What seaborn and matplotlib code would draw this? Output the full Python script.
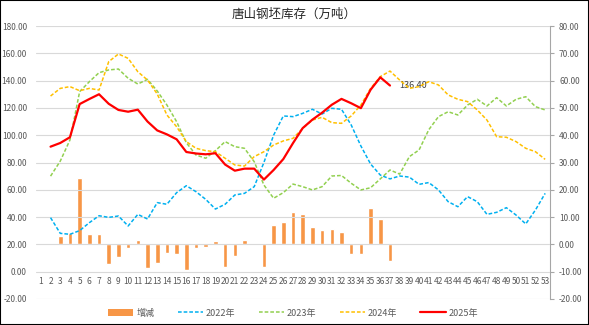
import numpy as np
import pandas as pd
import matplotlib
matplotlib.use("Agg")
import matplotlib.pyplot as plt
import seaborn as sns
from matplotlib.patches import Patch, Rectangle
from matplotlib.lines import Line2D

nan = np.nan
weeks = list(range(1, 54))
week_labels = [str(w) for w in weeks]

s2022 = [nan, 39.6, 28.1, 27.4, 30.1, 35.9, 41.0, 39.8, 40.8, 33.5, 42.0, 38.6, 50.6, 49.4,
         57.9, 63.0, 58.6, 53.0, 45.9, 49.4, 56.2, 57.4, 62.3, 80.0, 100.0, 114.1, 113.6,
         116.0, 119.0, 115.5, 119.7, 119.0, 107.5, 92.1, 78.9, 70.8, 68.0, 70.1, 69.3, 64.0,
         65.3, 59.9, 51.3, 47.6, 55.0, 51.3, 42.0, 43.5, 46.9, 41.5, 35.0, 45.2, 57.4]
s2023 = [nan, 70.0, 81.0, 96.5, 131.9, 139.2, 145.8, 147.8, 148.5, 141.7, 137.5, 140.9, 132.4,
         122.1, 109.9, 94.5, 85.5, 83.1, 88.7, 95.3, 91.6, 90.4, 80.6, 63.5, 53.8, 57.9, 64.2,
         62.3, 59.9, 62.3, 70.1, 70.5, 64.8, 59.9, 61.5, 68.0, 74.5, 71.5, 84.3, 89.2, 104.0,
         113.6, 117.2, 114.8, 122.1, 126.3, 121.4, 127.5, 121.4, 126.3, 128.2, 120.9, 118.5]
s2024 = [nan, 128.7, 134.3, 135.6, 132.6, 134.3, 133.1, 153.9, 159.5, 156.3, 146.5, 140.4, 130.2,
         114.8, 106.2, 95.3, 90.4, 88.7, 87.9, 83.1, 78.2, 77.4, 84.3, 87.9, 92.8, 95.8, 97.7,
         105.0, 111.1, 113.1, 109.2, 108.7, 114.1, 122.1, 134.3, 142.9, 147.0, 140.4, 134.3,
         135.6, 139.2, 136.8, 129.5, 126.3, 124.6, 118.5, 111.1, 98.9, 98.5, 95.3, 90.4, 87.9, 82.3]
s2025 = [nan, 91.6, 94.3, 98.5, 122.8, 126.5, 130.0, 123.0, 118.5, 117.2, 118.7, 110.0, 103.5,
         100.6, 97.0, 87.7, 86.6, 86.0, 86.8, 78.5, 74.0, 75.5, 75.5, 67.5, 74.5, 82.5, 94.2,
         105.2, 111.4, 116.5, 122.3, 126.6, 123.4, 119.8, 133.3, 142.4, 136.4] + [nan] * 16

change_weeks = list(range(3, 38))
change = [3.1, 4.2, 24.3, 3.7, 3.7, -7.1, -4.5, -1.5, 1.6, -8.7, -6.7, -3.1, -3.4, -9.3, -1.3,
          -0.9, 1.1, -8.3, -4.4, 1.5, 0.0, -8.2, 7.2, 8.2, 11.8, 11.1, 6.3, 5.2, 5.6, 4.5, -3.4,
          -3.4, 13.3, 9.3, -6.0]

series_names = ["2022年", "2023年", "2024年", "2025年"]
series_values = [s2022, s2023, s2024, s2025]
series_colors = ["#00B0F0", "#92D050", "#FFC000", "#FF0000"]
bar_name = "增减"
bar_color = "#F79646"
title = "唐山钢坯库存（万吨）"
last_label = "136.40"

sns.set_theme(style="white")
plt.rcParams["font.family"] = ["Noto Sans CJK SC", "DejaVu Sans"]
plt.rcParams["axes.unicode_minus"] = False

fig = plt.figure(figsize=(5.89, 3.25), dpi=100)
fig.patch.set_facecolor("white")
ax = fig.add_axes([36 / 589, 1 - 299 / 325, 514 / 589, 273 / 325])
ax2 = ax.twinx()

# bars on secondary axis
df_bar = pd.DataFrame({"week": change_weeks, "change": change})
sns.barplot(data=df_bar, x="week", y="change", native_scale=True, width=0.47,
            color=bar_color, saturation=1, errorbar=None, ax=ax2, zorder=2)

# lines on primary axis
for name, vals, col in zip(series_names, series_values, series_colors):
    d = pd.DataFrame({"week": weeks, "value": vals}).dropna()
    if name == "2025年":
        sns.lineplot(data=d, x="week", y="value", color=col, lw=1.6, ax=ax, zorder=5)
    else:
        sns.lineplot(data=d, x="week", y="value", color=col, lw=1.1, ax=ax,
                     dashes=False, zorder=4)
        ax.lines[-1].set_dashes((2.4, 1.3))

ax.set_zorder(ax2.get_zorder() + 1)
ax.patch.set_visible(False)

ax.set_ylim(-20, 180)
ax2.set_ylim(-20, 80)
ax.set_xlim(0.5, 53.5)
ax.set_yticks(np.arange(-20, 181, 20))
ax2.set_yticks(np.arange(-20, 81, 10))
ax.yaxis.set_major_formatter(matplotlib.ticker.FormatStrFormatter("%.2f"))
ax2.yaxis.set_major_formatter(matplotlib.ticker.FormatStrFormatter("%.2f"))
ax.set_xticks(weeks)
ax.set_xticklabels(week_labels)

ax.yaxis.grid(True, color="#D9D9D9", lw=0.8)
ax.xaxis.grid(False)
ax2.grid(False)
for s in ax.spines.values():
    s.set_visible(False)
for k, s in ax2.spines.items():
    s.set_visible(k == "right")
ax2.spines["right"].set_color("#A6A6A6")
ax2.spines["right"].set_linewidth(0.8)
ax.spines["bottom"].set_position(("data", 0))

ax.tick_params(axis="x", length=0, pad=4, labelsize=6.0, labelcolor="#595959")
ax.tick_params(axis="y", length=0, pad=6.5, labelsize=6, labelcolor="#595959")
ax2.tick_params(axis="y", right=True, length=3, direction="out", color="#A6A6A6", width=0.8,
                pad=3.5, labelsize=6, labelcolor="#595959")
ax2.tick_params(axis="x", bottom=False, labelbottom=False, top=False, labeltop=False)
ax.set_xlabel("")
ax.set_ylabel("")
ax2.set_xlabel("")
ax2.set_ylabel("")

ax.annotate(last_label, xy=(37, 136.4), xytext=(6.5, 0), textcoords="offset points",
            ha="left", va="center", fontsize=6.5, color="#404040")

fig.text(0.5, 1 - 14 / 325, title, ha="center", va="center", fontsize=9, color="#262626")

handles = [Patch(facecolor=bar_color, edgecolor="none")]
for name, col in zip(series_names, series_colors):
    if name == "2025年":
        handles.append(Line2D([], [], color=col, lw=1.6))
    else:
        handles.append(Line2D([], [], color=col, lw=1.1, dashes=(2.4, 1.3)))
labels = [bar_name] + series_names
fig.legend(handles, labels, loc="center", bbox_to_anchor=(293 / 589, 1 - 313 / 325), ncol=5,
           frameon=False, fontsize=6.5, handlelength=2.8, columnspacing=2.6,
           handletextpad=0.3, labelcolor="#595959")

fig.add_artist(Rectangle((0, 0), 1, 1, transform=fig.transFigure, fill=False,
                         edgecolor="black", lw=1.5))

fig.savefig("out.png", dpi=100)
